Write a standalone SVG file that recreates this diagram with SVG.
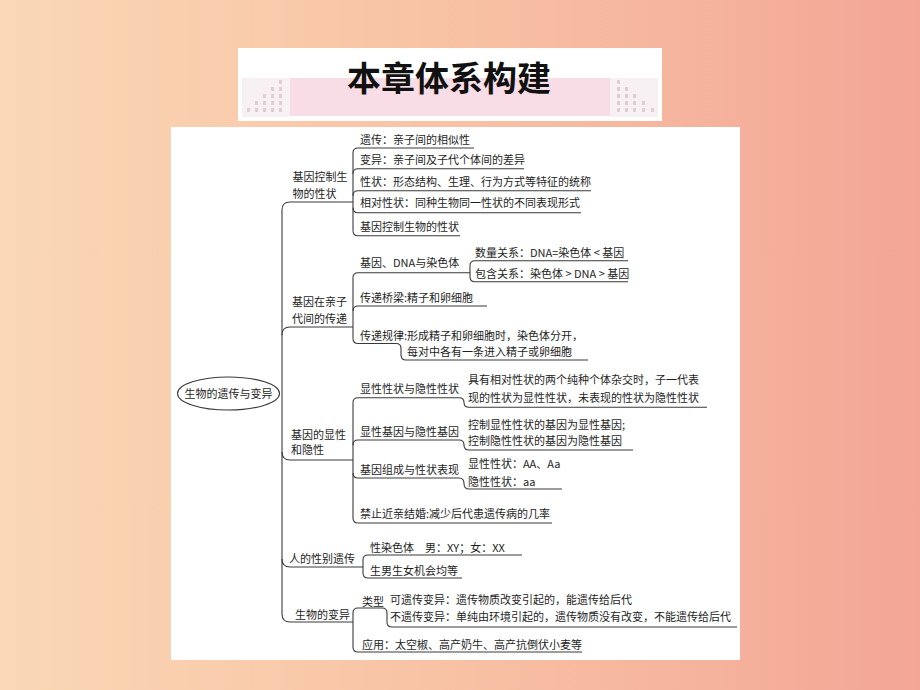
<svg xmlns="http://www.w3.org/2000/svg" width="920" height="690" viewBox="0 0 920 690">
<defs>
<linearGradient id="bg" x1="0" y1="0" x2="1" y2="0">
<stop offset="0" stop-color="#fad8b5"/>
<stop offset="0.5" stop-color="#f8c1a4"/>
<stop offset="1" stop-color="#f3a696"/>
</linearGradient>
<style>
.t{font-family:"Noto Sans CJK SC","Noto Sans",sans-serif;font-size:11px;fill:#1e1e1e}
.c{fill:none;stroke:#3a3a3a;stroke-width:1.1}
.d{fill:#e2ccd5}
</style>
</defs>
<rect x="0" y="0" width="920" height="690" fill="url(#bg)"/>
<g id="title">
<rect x="238" y="48" width="424" height="73" fill="#ffffff"/>
<rect x="242" y="78" width="48" height="39" fill="#f7f1f3"/>
<rect x="610" y="78" width="48" height="39" fill="#f7f1f3"/>
<rect x="290" y="78" width="320" height="38" fill="#f8dce6"/>
<g class="d">
<rect x="247" y="108" width="3" height="4"/>
<rect x="255" y="101" width="3" height="4"/><rect x="255" y="108" width="3" height="4"/>
<rect x="263" y="94" width="3" height="4"/><rect x="263" y="101" width="3" height="4"/><rect x="263" y="108" width="3" height="4"/>
<rect x="271" y="87" width="3" height="4"/><rect x="271" y="94" width="3" height="4"/><rect x="271" y="101" width="3" height="4"/><rect x="271" y="108" width="3" height="4"/>
<rect x="279" y="80" width="3" height="4"/><rect x="279" y="87" width="3" height="4"/><rect x="279" y="94" width="3" height="4"/><rect x="279" y="101" width="3" height="4"/><rect x="279" y="108" width="3" height="4"/>
<rect x="617" y="80" width="3" height="4"/><rect x="617" y="87" width="3" height="4"/><rect x="617" y="94" width="3" height="4"/><rect x="617" y="101" width="3" height="4"/><rect x="617" y="108" width="3" height="4"/>
<rect x="625" y="87" width="3" height="4"/><rect x="625" y="94" width="3" height="4"/><rect x="625" y="101" width="3" height="4"/><rect x="625" y="108" width="3" height="4"/>
<rect x="633" y="94" width="3" height="4"/><rect x="633" y="101" width="3" height="4"/><rect x="633" y="108" width="3" height="4"/>
<rect x="642" y="101" width="3" height="4"/><rect x="642" y="108" width="3" height="4"/>
<rect x="651" y="108" width="3" height="4"/>
</g>
<text x="449" y="91" text-anchor="middle" style="font-family:'Noto Sans CJK SC','Noto Sans',sans-serif;font-size:34px;font-weight:bold;fill:#111">本章体系构建</text>
</g>
<rect x="171" y="127" width="569" height="533" fill="#ffffff"/>
<g id="connectors">
<path class="c" d="M290 202 Q282 202 282 210 V614 Q282 622 290 622"/>
<path class="c" d="M290 202 H353"/>
<path class="c" d="M282 335 Q282 327 290 327 H353"/>
<path class="c" d="M282 452 Q282 460 290 460 H353"/>
<path class="c" d="M282 559 Q282 567 290 567 H363"/>
<path class="c" d="M290 622 H353"/>
<path class="c" d="M353 153 V230.7"/>
<path class="c" d="M474 148 H358 Q353 148 353 153"/>
<path class="c" d="M524 168.7 H358 Q353 168.7 353 173.7"/>
<path class="c" d="M591 190.7 H358 Q353 190.7 353 195.7"/>
<path class="c" d="M581 212.8 H358 Q353 212.8 353 207.8"/>
<path class="c" d="M460 235.7 H358 Q353 235.7 353 230.7"/>
<path class="c" d="M353 277.7 V338.5"/>
<path class="c" d="M470 272.7 H358 Q353 272.7 353 277.7"/>
<path class="c" d="M487 306 H358 Q353 306 353 311"/>
<path class="c" d="M353 338.5 Q353 343.5 358 343.5 H396 Q401 343.5 401 348.5 V355 Q401 360 406 360 H588"/>
<path class="c" d="M470 265.7 V276.7"/>
<path class="c" d="M628 260.7 H475 Q470 260.7 470 265.7"/>
<path class="c" d="M628 281.7 H475 Q470 281.7 470 276.7"/>
<path class="c" d="M353 402.7 V518"/>
<path class="c" d="M353 402.7 Q353 397.7 358 397.7 H459 Q464 397.7 464 402.5 Q464 407.3 469 407.3 H707"/>
<path class="c" d="M353 445 Q353 440 358 440 H459 Q464 440 464 445 Q464 450 469 450 H633"/>
<path class="c" d="M353 473 Q353 478 358 478 H459 Q464 478 464 483.5 Q464 489 469 489 H562"/>
<path class="c" d="M552 523 H358 Q353 523 353 518"/>
<path class="c" d="M363 560 V573"/>
<path class="c" d="M522 555 H368 Q363 555 363 560"/>
<path class="c" d="M462 578 H368 Q363 578 363 573"/>
<path class="c" d="M353 613 V647"/>
<path class="c" d="M353 613 Q353 608 358 608 H382 Q387 608 387 613 V622 Q387 627 392 627 H737"/>
<path class="c" d="M582 652 H358 Q353 652 353 647"/>
</g>
<g id="root">
<ellipse cx="228.5" cy="393.5" rx="51" ry="16.5" fill="#ffffff" stroke="#3a3a3a" stroke-width="1.1"/>
<text class="t" x="228.5" y="397.5" text-anchor="middle">生物的遗传与变异</text>
</g>
<g id="n1">
<text class="t" x="292.5" y="181">基因控制生</text>
<text class="t" x="292.5" y="197.5">物的性状</text>
</g>
<g id="n1a"><text class="t" x="360" y="144.3">遗传：亲子间的相似性</text></g>
<g id="n1b"><text class="t" x="360" y="164.3">变异：亲子间及子代个体间的差异</text></g>
<g id="n1c"><text class="t" x="360" y="185.8">性状：形态结构、生理、行为方式等特征的统称</text></g>
<g id="n1d"><text class="t" x="360" y="207.3">相对性状：同种生物同一性状的不同表现形式</text></g>
<g id="n1e"><text class="t" x="360" y="231.3">基因控制生物的性状</text></g>
<g id="n2">
<text class="t" x="292" y="305.8">基因在亲子</text>
<text class="t" x="292" y="322.8">代间的传递</text>
</g>
<g id="n2a"><text class="t" x="360" y="267.3">基因、DNA与染色体</text></g>
<g id="n2a1"><text class="t" x="475" y="257.3">数量关系：DNA=染色体 &lt; 基因</text></g>
<g id="n2a2"><text class="t" x="475" y="277.8">包含关系：染色体 &gt; DNA &gt; 基因</text></g>
<g id="n2b"><text class="t" x="360" y="301.8">传递桥梁:精子和卵细胞</text></g>
<g id="n2c">
<text class="t" x="360" y="339.5">传递规律:形成精子和卵细胞时，染色体分开，</text>
<text class="t" x="407" y="355.5">每对中各有一条进入精子或卵细胞</text>
</g>
<g id="n3">
<text class="t" x="291" y="438.8">基因的显性</text>
<text class="t" x="291" y="454.3">和隐性</text>
</g>
<g id="n3a"><text class="t" x="360" y="393.3">显性性状与隐性性状</text></g>
<g id="n3a1">
<text class="t" x="468" y="384.3">具有相对性状的两个纯种个体杂交时，子一代表</text>
<text class="t" x="468" y="402.3">现的性状为显性性状，未表现的性状为隐性性状</text>
</g>
<g id="n3b"><text class="t" x="360" y="436.3">显性基因与隐性基因</text></g>
<g id="n3b1">
<text class="t" x="468" y="429.3">控制显性性状的基因为显性基因;</text>
<text class="t" x="468" y="445.3">控制隐性性状的基因为隐性基因</text>
</g>
<g id="n3c"><text class="t" x="360" y="474.3">基因组成与性状表现</text></g>
<g id="n3c1">
<text class="t" x="468" y="467.8">显性性状：AA、Aa</text>
<text class="t" x="468" y="486.3">隐性性状：aa</text>
</g>
<g id="n3d"><text class="t" x="360" y="517.8">禁止近亲结婚:减少后代患遗传病的几率</text></g>
<g id="n4"><text class="t" x="289" y="563.3">人的性别遗传</text></g>
<g id="n4a"><text class="t" x="370" y="552.3">性染色体<tspan x="425">男：XY；女：XX</tspan></text></g>
<g id="n4b"><text class="t" x="370" y="574.8">生男生女机会均等</text></g>
<g id="n5"><text class="t" x="295" y="618.8">生物的变异</text></g>
<g id="n5a"><text class="t" x="362" y="605.5">类型</text></g>
<g id="n5a1">
<text class="t" x="390" y="604.3">可遗传变异：遗传物质改变引起的，能遗传给后代</text>
<text class="t" x="390" y="620.5">不遗传变异：单纯由环境引起的，遗传物质没有改变，不能遗传给后代</text>
</g>
<g id="n5b"><text class="t" x="362" y="649.3">应用：太空椒、高产奶牛、高产抗倒伏小麦等</text></g>
</svg>
